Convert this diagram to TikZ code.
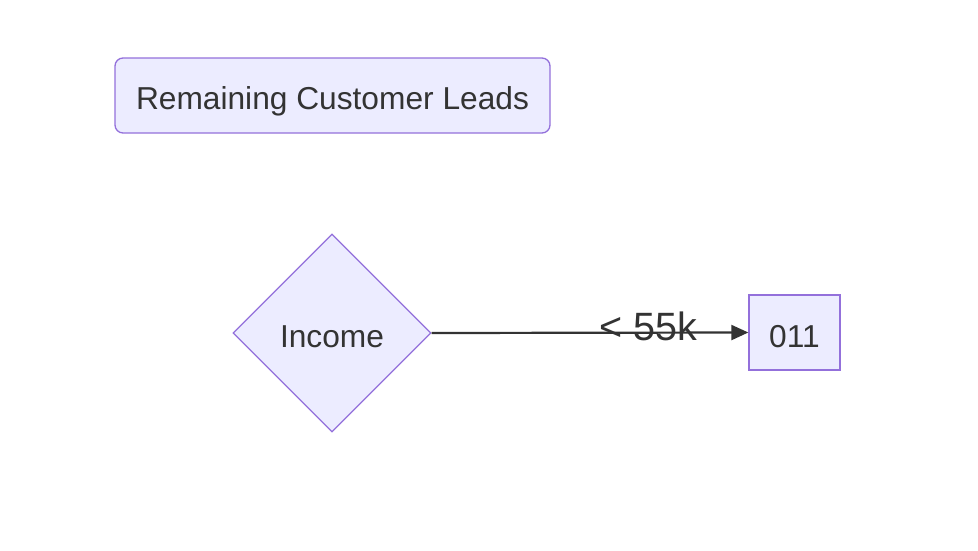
\documentclass[tikz,border=0pt]{standalone}
\usepackage{fontspec}
\setmainfont{Liberation Sans}
\usetikzlibrary{shapes.geometric,arrows.meta}
\definecolor{nodefill}{HTML}{ECECFF}
\definecolor{nodeline}{HTML}{9370DB}
\definecolor{txt}{HTML}{333333}
\newcommand{\lowtext}[2]{\makebox[0pt]{\raisebox{-#1}[0pt][0pt]{#2}}}
\tikzset{
  base/.style={draw=nodeline, fill=nodefill, line width=1.3pt, text=txt, font=\fontsize{31.7}{36}\selectfont, inner sep=0pt},
  roundbox/.style={base, rounded corners=8pt, minimum width=435pt, minimum height=75pt},
  decision/.style={base, diamond, minimum width=198pt, minimum height=198pt},
  plainbox/.style={base, minimum width=91pt, minimum height=75pt},
  link/.style={draw=txt, line width=2.2pt, -{Triangle[length=17pt,width=15pt]}},
  linklabel/.style={text=txt, font=\fontsize{39.5}{44}\selectfont, inner sep=0pt, anchor=base}
}
\begin{document}
\begin{tikzpicture}[x=1pt,y=-1pt]
\useasboundingbox (0,0) rectangle (978,550);
\node[roundbox] (leads) at (332.5,95.5) {\lowtext{14pt}{Remaining Customer Leads}};
\node[decision] (income) at (332,333) {\lowtext{14.5pt}{Income}};
\node[plainbox] (o11) at (794.5,332.5) {\lowtext{14.5pt}{011}};
\draw[link] (income.east) -- (o11.west);
\node[linklabel] (lbl) at (648.5,340) {< 55k};
\end{tikzpicture}
\end{document}
